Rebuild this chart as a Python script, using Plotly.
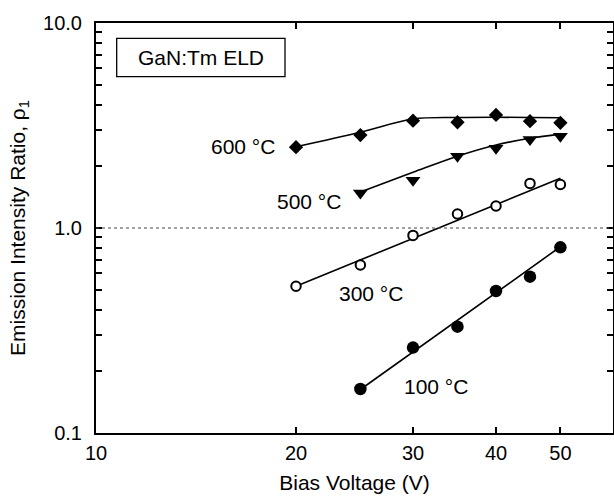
import math
import plotly.graph_objects as go

# ---- data ----
volt_600 = [20, 25, 30, 35, 40, 45, 50]
ratio_600 = [2.48, 2.84, 3.34, 3.28, 3.56, 3.32, 3.26]
fit_v_600 = [20, 25, 30, 35, 40, 45, 50]
fit_r_600 = [2.49, 2.93, 3.40, 3.46, 3.47, 3.46, 3.45]

volt_500 = [25, 30, 35, 40, 45, 50]
ratio_500 = [1.48, 1.71, 2.24, 2.45, 2.70, 2.80]
fit_v_500 = [25, 30, 35, 40, 45, 50]
fit_r_500 = [1.50, 1.87, 2.24, 2.54, 2.74, 2.87]

volt_300 = [20, 25, 30, 35, 40, 45, 50]
ratio_300 = [0.52, 0.66, 0.92, 1.17, 1.28, 1.65, 1.63]
fit_v_300 = [20, 50]
fit_r_300 = [0.52, 1.75]

volt_100 = [25, 30, 35, 40, 45, 50]
ratio_100 = [0.164, 0.261, 0.330, 0.493, 0.579, 0.805]
fit_v_100 = [25, 50]
fit_r_100 = [0.163, 0.81]

x_ticks = [10, 20, 30, 40, 50]
x_labels = ["10", "20", "30", "40", "50"]
y_ticks = [0.1, 1, 10]
y_labels = ["0.1", "1.0", "10.0"]
y_minor_ticks = [0.2, 0.3, 0.4, 0.5, 0.6, 0.7, 0.8, 0.9,
                 2, 3, 4, 5, 6, 7, 8, 9]

series_labels = ["600 °C", "500 °C", "300 °C", "100 °C"]
box_label = "GaN:Tm ELD"
x_title = "Bias Voltage (V)"
y_title = "Emission Intensity Ratio, ρ<sub>1</sub>"

FONT = "Liberation Sans, Arial, Helvetica, sans-serif"
W, H = 614, 499
ML, MR, MT, MB = 96, 1, 23, 66
PW, PH = W - ML - MR, H - MT - MB
TXT = 21
TICK = 20


def px(xp):
    return (xp - ML) / PW


def py(yp):
    return (MT + PH - yp) / PH


fig = go.Figure()

for fx, fy, smooth in [(fit_v_600, fit_r_600, True), (fit_v_500, fit_r_500, True),
                       (fit_v_300, fit_r_300, False), (fit_v_100, fit_r_100, False)]:
    fig.add_trace(go.Scatter(
        x=fx, y=fy, mode="lines",
        line=dict(color="black", width=1.6,
                  shape="spline" if smooth else "linear", smoothing=1.0),
        showlegend=False, hoverinfo="skip"))

fig.add_trace(go.Scatter(
    x=volt_600, y=ratio_600, mode="markers", name=series_labels[0],
    marker=dict(symbol="diamond", size=11, color="black"), showlegend=False))
fig.add_trace(go.Scatter(
    x=volt_500, y=ratio_500, mode="markers", name=series_labels[1],
    marker=dict(symbol="triangle-down", size=13, color="black"), showlegend=False))
fig.add_trace(go.Scatter(
    x=volt_300, y=ratio_300, mode="markers", name=series_labels[2],
    marker=dict(symbol="circle", size=9.5, color="white",
                line=dict(color="black", width=2)), showlegend=False))
fig.add_trace(go.Scatter(
    x=volt_100, y=ratio_100, mode="markers", name=series_labels[3],
    marker=dict(symbol="circle", size=12.5, color="black"), showlegend=False))

# dotted reference line at ratio 1
fig.add_shape(type="line", xref="paper", yref="y", x0=0, x1=1, y0=1, y1=1,
              line=dict(color="#444444", width=1.2, dash="dot"))

# label box
fig.add_shape(type="rect", xref="paper", yref="paper",
              x0=px(116.7), x1=px(285), y0=py(76.7), y1=py(38.3),
              line=dict(color="black", width=1.3), fillcolor="white")
fig.add_annotation(text=box_label, xref="paper", yref="paper",
                   x=px(200.5), y=py(58), showarrow=False,
                   xanchor="center", yanchor="middle",
                   font=dict(family=FONT, size=TXT, color="black"))

label_pos = [(242.5, 146.7), (309, 201.7), (371, 293.3), (435.5, 386.7)]
for lab, (lx, ly) in zip(series_labels, label_pos):
    fig.add_annotation(text=lab, xref="paper", yref="paper",
                       x=px(lx), y=py(ly), showarrow=False,
                       xanchor="center", yanchor="middle",
                       font=dict(family=FONT, size=TXT, color="black"))

axis_common = dict(
    showline=True, linecolor="black", linewidth=2, mirror="ticks",
    ticks="inside", ticklen=6, tickwidth=1.5, tickcolor="black",
    showgrid=False, zeroline=False,
    tickfont=dict(family=FONT, size=TICK, color="black"),
)

fig.update_xaxes(
    type="log", range=[1, math.log10(60)],
    tickmode="array", tickvals=x_ticks, ticktext=x_labels,
    ticklabelstandoff=1,
    title=dict(text=x_title, font=dict(family=FONT, size=TXT, color="black"), standoff=12),
    **axis_common)
fig.update_yaxes(
    type="log", range=[-1, 1],
    tickmode="array", tickvals=y_ticks, ticktext=y_labels,
    ticklabelstandoff=8,
    minor=dict(tickmode="array", tickvals=y_minor_ticks, ticks="inside",
               ticklen=6, tickwidth=1.5, tickcolor="black", showgrid=False),
    title=dict(text=y_title, font=dict(family=FONT, size=TXT, color="black"), standoff=12),
    **axis_common)

fig.update_layout(
    width=W, height=H,
    margin=dict(l=ML, r=MR, t=MT, b=MB, autoexpand=False),
    paper_bgcolor="white", plot_bgcolor="white",
    font=dict(family=FONT, color="black"),
    showlegend=False,
)

fig.write_html("out.html", config={"displayModeBar": False},
               post_script="document.body.style.margin='0';")
